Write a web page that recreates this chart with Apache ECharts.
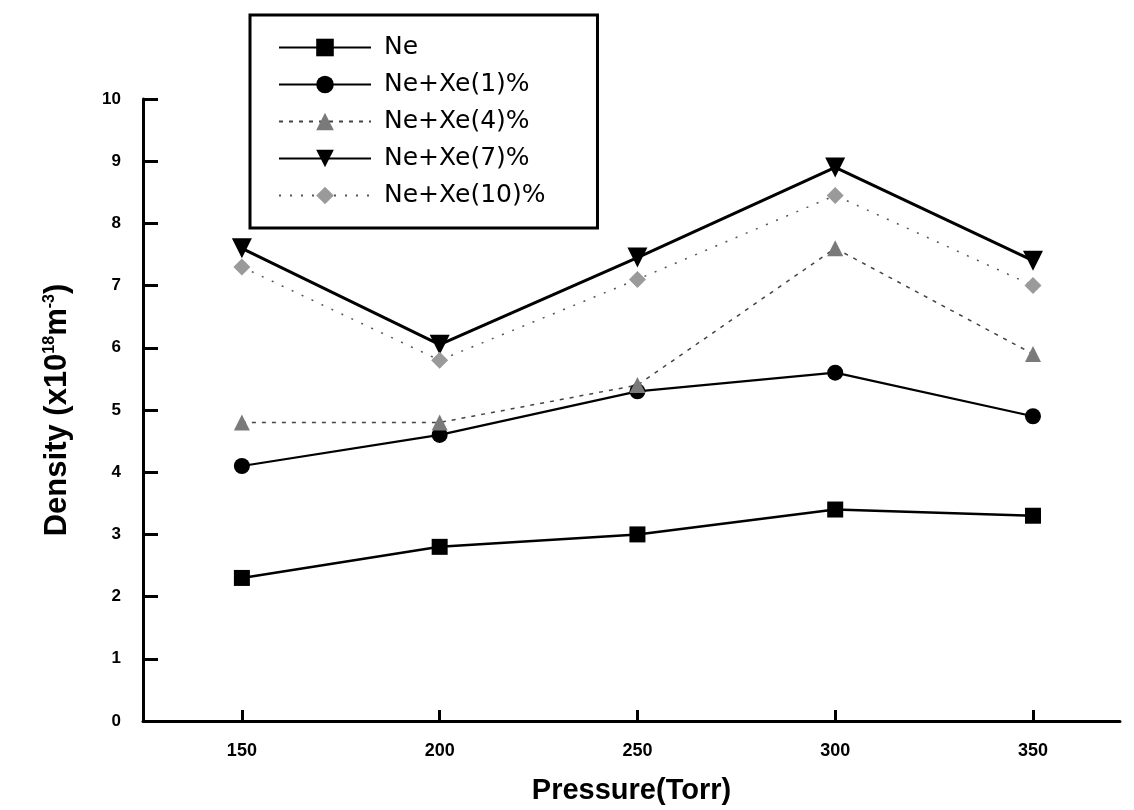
<!DOCTYPE html>
<html>
<head>
    <meta charset="utf-8">
    <script type="text/javascript" src="https://cdn.jsdelivr.net/npm/echarts@6.0.0/dist/echarts.min.js"></script>
    <style type="text/css">
        *{
            margin: 0;
            padding: 0;
        }
        #main{
            width: 1134px;
            height: 810px;
            background: #fff;
        }
    </style>
</head>
<body>
<div id="main"></div>
<script type="text/javascript">
    // pressure (Torr)
    var pressure = [150, 200, 250, 300, 350];
    var yTicks = [0, 1, 2, 3, 4, 5, 6, 7, 8, 9, 10];

    // density values (x10^18 m^-3)
    var ne     = [2.3, 2.8, 3.0, 3.4, 3.3];
    var neXe1  = [4.1, 4.6, 5.3, 5.6, 4.9];
    var neXe4  = [4.8, 4.8, 5.4, 7.6, 5.9];
    var neXe7  = [7.6, 6.05, 7.45, 8.9, 7.4];
    var neXe10 = [7.3, 5.8, 7.1, 8.45, 7.0];

    var names = ['Ne', 'Ne+Xe(1)%', 'Ne+Xe(4)%', 'Ne+Xe(7)%', 'Ne+Xe(10)%'];

    function pairs(vals){
        var out = [];
        for (var i = 0; i < pressure.length; i++) out.push([pressure[i], vals[i]]);
        return out;
    }

    var myChart = echarts.init(document.getElementById('main'));
    var font = 'Liberation Sans';

    var option = {
        backgroundColor: '#fff',
        animation: false,
        grid: {
            left: 143,
            top: 99,
            right: 14,
            bottom: 88
        },
        legend: {
            orient: 'vertical',
            left: 250,
            top: 15,
            backgroundColor: '#fff',
            borderColor: '#000',
            borderWidth: 3,
            padding: [20, 52, 20, 28],
            itemWidth: 92,
            itemHeight: 22,
            itemGap: 12,
            data: names,
            textStyle: {
                fontFamily: 'DejaVu Sans',
                fontSize: 25,
                color: '#000',
                lineHeight: 22,
                padding: [0, 0, 0, 8]
            }
        },
        xAxis: {
            type: 'value',
            min: 125,
            max: 372,
            name: 'Pressure(Torr)',
            nameLocation: 'middle',
            nameGap: 55,
            nameTextStyle: {
                fontFamily: font,
                fontWeight: 'bold',
                fontSize: 29,
                color: '#000'
            },
            axisLine: { show: true, lineStyle: { color: '#000', width: 3 } },
            axisTick: {
                show: true,
                inside: true,
                length: 11,
                customValues: pressure,
                lineStyle: { color: '#000', width: 3 }
            },
            axisLabel: {
                customValues: pressure,
                margin: 21,
                fontFamily: font,
                fontWeight: 'bold',
                fontSize: 18,
                color: '#000'
            },
            splitLine: { show: false }
        },
        yAxis: {
            type: 'value',
            min: 0,
            max: 10,
            interval: 1,
            name: 'Density (x10{sup|18}m{sup|-3})',
            nameLocation: 'middle',
            nameGap: 70,
            nameTextStyle: {
                fontFamily: font,
                fontWeight: 'bold',
                fontSize: 31,
                color: '#000',
                rich: {
                    sup: {
                        fontFamily: font,
                        fontWeight: 'bold',
                        fontSize: 16,
                        verticalAlign: 'top',
                        padding: [0, 0, 14, 0],
                        color: '#000'
                    }
                }
            },
            axisLine: { show: true, lineStyle: { color: '#000', width: 3 } },
            axisTick: {
                show: true,
                inside: true,
                length: 15,
                lineStyle: { color: '#000', width: 3 }
            },
            axisLabel: {
                margin: 22,
                fontFamily: font,
                fontWeight: 'bold',
                fontSize: 17,
                color: '#000',
                formatter: function (v) { return yTicks.indexOf(v) >= 0 ? String(v) : ''; }
            },
            splitLine: { show: false }
        },
        series: [
            {
                name: names[0],
                type: 'line',
                data: pairs(ne),
                symbol: 'rect',
                symbolSize: 16,
                itemStyle: { color: '#000' },
                lineStyle: { color: '#000', width: 2.5 }
            },
            {
                name: names[1],
                type: 'line',
                data: pairs(neXe1),
                symbol: 'circle',
                symbolSize: 16,
                itemStyle: { color: '#000' },
                lineStyle: { color: '#000', width: 2.2 }
            },
            {
                name: names[2],
                type: 'line',
                data: pairs(neXe4),
                symbol: 'triangle',
                symbolSize: 16,
                itemStyle: { color: '#7a7a7a' },
                lineStyle: { color: '#444', width: 1.5, type: [4, 6] }
            },
            {
                name: names[3],
                type: 'line',
                data: pairs(neXe7),
                symbol: 'triangle',
                symbolRotate: 180,
                symbolSize: 20,
                itemStyle: { color: '#000' },
                lineStyle: { color: '#000', width: 3 }
            },
            {
                name: names[4],
                type: 'line',
                data: pairs(neXe10),
                symbol: 'diamond',
                symbolSize: 17,
                itemStyle: { color: '#9a9a9a' },
                lineStyle: { color: '#555', width: 1.5, type: [2, 9] }
            }
        ]
    };

    myChart.setOption(option);
</script>
</body>
</html>
